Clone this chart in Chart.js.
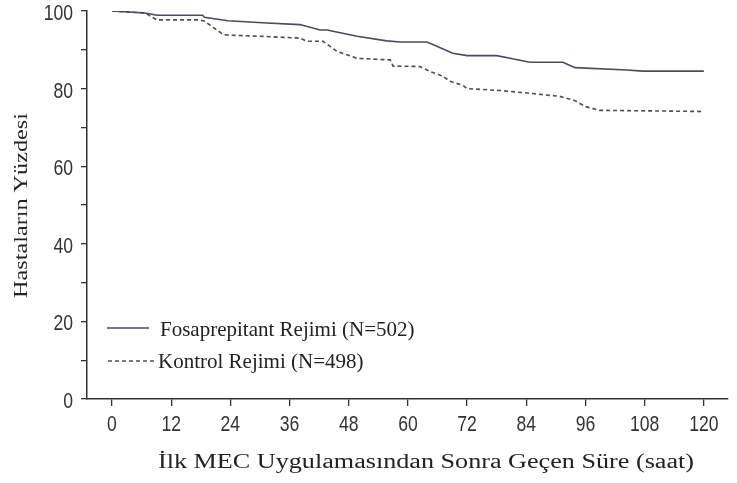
<!DOCTYPE html>
<html>
<head>
<meta charset="utf-8">
<script src="https://cdn.jsdelivr.net/npm/chart.js@4.4.1/dist/chart.umd.min.js"></script>
<style>
  html, body { margin: 0; padding: 0; background: #ffffff; }
  #wrap { width: 737px; height: 483px; }
</style>
</head>
<body>
<div id="wrap"><canvas id="c" width="737" height="483"></canvas></div>
<script>
// ---- Data ----
const xTicks = [0, 12, 24, 36, 48, 60, 72, 84, 96, 108, 120];
const yTicks = [0, 10, 20, 30, 40, 50, 60, 70, 80, 90, 100];
const yLabeled = [0, 20, 40, 60, 80, 100];

const fosHours  = [0, 6.7, 9.1, 18.4, 18.7, 23.5, 31.4, 38.1, 42.2, 43.6, 49.7, 55.7, 58.4, 63.9, 69.1, 72, 78, 80.7, 84.7, 91.4, 93.9, 104.4, 107.6, 120];
const fosValues = [100, 99.5, 98.9, 98.9, 98.4, 97.5, 96.9, 96.5, 95.1, 95.1, 93.5, 92.3, 92.0, 92.0, 89.1, 88.5, 88.5, 87.8, 86.8, 86.8, 85.4, 84.8, 84.5, 84.5];

const konHours  = [0, 6.7, 9.1, 17.6, 18.7, 22.5, 23.3, 30, 38.1, 39.5, 42.8, 45.6, 49.7, 56.4, 57, 62.4, 64.5, 67.1, 68.5, 71.2, 72, 78.7, 84.7, 90.8, 93.9, 95.9, 98.9, 120];
const konValues = [100, 99.5, 97.7, 97.7, 97.4, 94.0, 93.8, 93.5, 93.0, 92.2, 92.2, 89.6, 87.8, 87.4, 85.8, 85.7, 84.4, 83.2, 81.9, 80.8, 80.0, 79.5, 78.8, 78.0, 76.9, 75.4, 74.4, 74.1];

const seriesNames = ['Fosaprepitant Rejimi (N=502)', 'Kontrol Rejimi (N=498)'];
const xTitle = 'İlk MEC Uygulamasından Sonra Geçen Süre (saat)';
const yTitle = 'Hastaların Yüzdesi';

// ---- Styles ----
const solidColor = '#4a4a60';
const dashColor = '#4d4d4d';
const axisColor = '#333333';
const textColor = '#222222';
const sans = "'Liberation Sans', Arial, sans-serif";
const serif = "'Liberation Serif', 'Times New Roman', serif";

function toPoints(xs, ys) { return xs.map((x, i) => ({ x: x, y: ys[i] })); }

function drawText(ctx, text, x, y, opts) {
  ctx.save();
  ctx.translate(x, y);
  if (opts.rot) ctx.rotate(opts.rot);
  ctx.font = opts.font;
  const w = ctx.measureText(text).width;
  const sx = opts.width ? opts.width / w : (opts.sx || 1);
  ctx.scale(sx, 1);
  ctx.textAlign = opts.align || 'center';
  ctx.textBaseline = opts.baseline || 'alphabetic';
  ctx.fillStyle = opts.color || textColor;
  ctx.fillText(text, 0, 0);
  ctx.restore();
}

const annotations = {
  id: 'annotations',
  afterDraw(chart) {
    const ctx = chart.ctx;
    const xs = chart.scales.x, ys = chart.scales.y;
    // tick labels (narrow sans)
    xTicks.forEach(v => {
      drawText(ctx, String(v), xs.getPixelForValue(v), 425, { font: '22px ' + sans, sx: 0.8, baseline: 'middle', color: '#333' });
    });
    yLabeled.forEach(v => {
      drawText(ctx, String(v), 73, ys.getPixelForValue(v) + 3, { font: '22px ' + sans, sx: 0.8, align: 'right', baseline: 'middle', color: '#333' });
    });
    // axis titles
    drawText(ctx, xTitle, 426, 468, { font: '20px ' + serif, width: 536 });
    drawText(ctx, yTitle, 27, 205.5, { font: '18px ' + serif, width: 185, rot: -Math.PI / 2 });
    // legend
    ctx.save();
    ctx.lineWidth = 1.6;
    ctx.strokeStyle = solidColor;
    ctx.beginPath(); ctx.moveTo(107, 328); ctx.lineTo(149, 328); ctx.stroke();
    ctx.strokeStyle = dashColor;
    ctx.setLineDash([4, 3]);
    ctx.beginPath(); ctx.moveTo(108, 361); ctx.lineTo(154, 361); ctx.stroke();
    ctx.restore();
    drawText(ctx, seriesNames[0], 160, 336, { font: '21px ' + serif, align: 'left' });
    drawText(ctx, seriesNames[1], 158, 368, { font: '21px ' + serif, align: 'left' });
  }
};

new Chart(document.getElementById('c'), {
  type: 'line',
  data: {
    datasets: [
      { label: seriesNames[0], data: toPoints(fosHours, fosValues), borderColor: solidColor, borderWidth: 1.6, pointRadius: 0, tension: 0, fill: false },
      { label: seriesNames[1], data: toPoints(konHours, konValues), borderColor: dashColor, borderWidth: 1.6, borderDash: [4, 3], pointRadius: 0, tension: 0, fill: false }
    ]
  },
  options: {
    responsive: false,
    animation: false,
    layout: { padding: { top: 11, right: 9, left: 0, bottom: 0 } },
    plugins: { legend: { display: false }, tooltip: { enabled: false }, title: { display: false } },
    scales: {
      x: {
        type: 'linear',
        min: -5.07,
        max: 124.9,
        afterBuildTicks(scale) { scale.ticks = xTicks.map(v => ({ value: v })); },
        afterFit(scale) { scale.height = 84; },
        grid: { display: true, drawOnChartArea: false, drawTicks: true, tickLength: 7, color: axisColor, lineWidth: 1.3 },
        border: { display: true, color: axisColor, width: 1.5 },
        ticks: { display: false, autoSkip: false }
      },
      y: {
        min: 0,
        max: 100,
        afterBuildTicks(scale) { scale.ticks = yTicks.map(v => ({ value: v })); },
        afterFit(scale) { scale.width = 87; },
        grid: { display: true, drawOnChartArea: false, drawTicks: true, tickLength: 6, color: axisColor, lineWidth: 1.3 },
        border: { display: true, color: axisColor, width: 1.5 },
        ticks: { display: false, autoSkip: false }
      }
    }
  },
  plugins: [annotations]
});
</script>
</body>
</html>
